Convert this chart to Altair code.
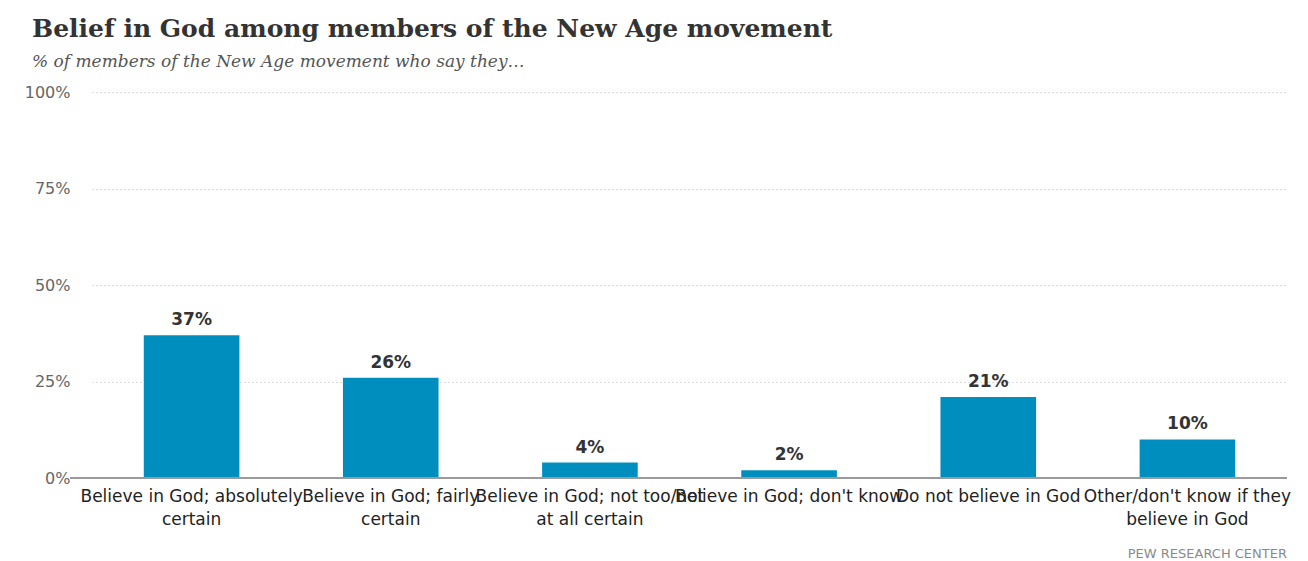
import json
import altair as alt
import pandas as pd

categories = [
    "Believe in God; absolutely certain",
    "Believe in God; fairly certain",
    "Believe in God; not too/not at all certain",
    "Believe in God; don't know",
    "Do not believe in God",
    "Other/don't know if they believe in God",
]
tick_labels = [
    ["Believe in God; absolutely", "certain"],
    ["Believe in God; fairly", "certain"],
    ["Believe in God; not too/not", "at all certain"],
    ["Believe in God; don't know"],
    ["Do not believe in God"],
    ["Other/don't know if they", "believe in God"],
]
values = [37, 26, 4, 2, 21, 10]
value_labels = ["37%", "26%", "4%", "2%", "21%", "10%"]

df = pd.DataFrame({"cat": categories, "val": values, "lab": value_labels})

W, H = 1195, 386
label_expr = f"{json.dumps(tick_labels)}[indexof({json.dumps(categories)}, datum.value)]"

x = alt.X(
    "cat:N",
    sort=categories,
    title=None,
    scale=alt.Scale(paddingInner=0.52, paddingOuter=0.26),
    axis=alt.Axis(
        labelAngle=0,
        labelExpr=label_expr,
        labelFont="DejaVu Sans",
        labelFontSize=17,
        labelColor="#222222",
        labelLineHeight=23,
        labelPadding=10,
        labelLimit=400,
        labelOverlap=False,
        labelBaseline="top",
        ticks=False,
        domain=False,
        grid=False,
    ),
)
y = alt.Y(
    "val:Q",
    title=None,
    scale=alt.Scale(domain=[0, 100]),
    axis=alt.Axis(
        values=[0, 25, 50, 75, 100],
        labelExpr="datum.value + '%'",
        labelFont="DejaVu Sans",
        labelFontSize=16,
        labelColor="#666666",
        labelPadding=22,
        ticks=False,
        domain=False,
        grid=True,
        gridColor="#b8b8b8",
        gridDash=[1, 3],
        gridWidth=1,
    ),
)

base = alt.Chart(df)
bars = base.mark_bar(color="#008ebf").encode(x=x, y=y)
texts = base.mark_text(
    font="DejaVu Sans", fontSize=17, fontWeight="bold", color="#333333",
    baseline="bottom", dy=-6,
).encode(x=alt.X("cat:N", sort=categories), y="val:Q", text="lab:N")
baseline = alt.Chart(pd.DataFrame({"v": [0]})).mark_rule(
    color="#9a9a9a", strokeWidth=2
).encode(x=alt.value(-22), x2=alt.value(W), y="v:Q")
footer = alt.Chart(pd.DataFrame({"t": ["PEW RESEARCH CENTER"]})).mark_text(
    font="DejaVu Sans", fontSize=13, color="#8a8a8a", align="right", baseline="middle"
).encode(x=alt.value(W), y=alt.value(H + 76), text="t:N")

chart = alt.layer(bars, texts, baseline, footer).properties(
    width=W,
    height=H,
    padding={"left": 84, "top": 84, "right": 13, "bottom": 83},
    autosize=alt.AutoSizeParams(type="none"),
    background="white",
    title=alt.TitleParams(
        text="Belief in God among members of the New Age movement",
        subtitle="% of members of the New Age movement who say they…",
        anchor="start",
        frame="group",
        dx=-60,
        offset=14,
        font="DejaVu Serif",
        fontSize=25,
        fontWeight="bold",
        color="#333333",
        subtitleFont="DejaVu Serif",
        subtitleFontSize=17,
        subtitleFontStyle="italic",
        subtitleColor="#555555",
        subtitlePadding=12,
    ),
).configure_view(stroke=None)

chart.save("out.html", embed_options={"renderer": "svg", "actions": False})
